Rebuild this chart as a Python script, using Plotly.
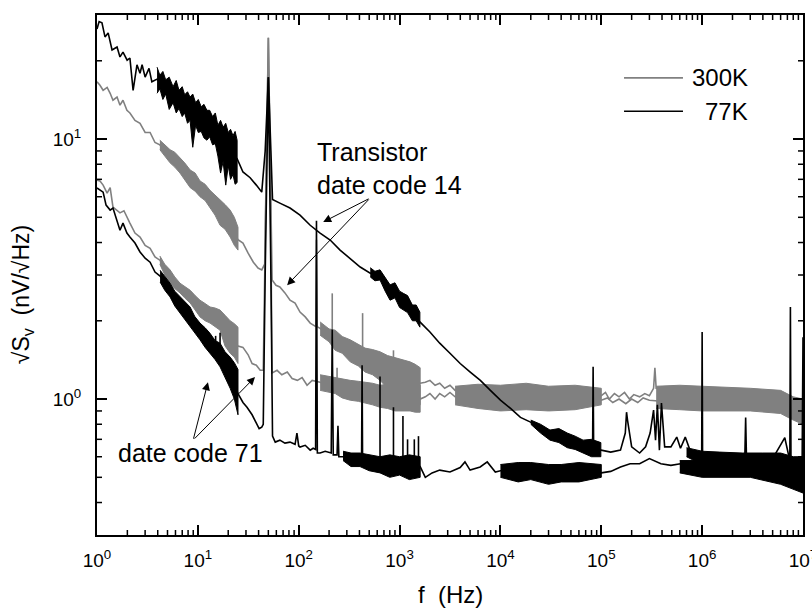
import math
import plotly.graph_objects as go

# ---------------- data ----------------
# Transistor date code 14, 77 K (upper black curve)
f_dc14_77 = [1.0, 1.05, 1.12, 1.2, 1.29, 1.41, 1.58, 1.69, 1.81, 1.99, 2.12, 2.28, 2.49, 2.67, 2.8,
             3.0, 3.28, 3.5, 3.94, 5.68, 8.37, 12.3, 17.8, 24.5, 28, 33, 38, 43, 46.5, 50, 53, 55,
             65, 82, 103, 130, 163, 205, 257, 324, 407, 512, 640, 805, 1090, 1340, 1590, 2000,
             2500, 3160, 3990, 5020, 6320, 7950, 10000, 12600, 15800, 19900, 25000, 31000, 46000,
             66000, 82000, 83000, 84000, 99600, 124000, 155000, 173000, 178000, 182000, 200000,
             240000, 275000, 305000, 330000, 345000, 360000, 377000, 395000, 425000, 490000,
             560000, 610000, 680000, 770000, 990000, 1000000, 1010000, 1500000, 2650000, 2700000,
             2750000, 5000000, 6600000, 7400000, 7500000, 7600000, 9000000, 9800000, 10000000]
v_dc14_77 = [26.5, 28.3, 28.0, 24.7, 25.6, 22.0, 22.6, 20.7, 21.6, 20.1, 20.5, 15.4, 19.3, 17.9, 19.3,
             17.3, 18.7, 16.6, 17.0, 14.8, 13.1, 11.3, 9.5, 8.4, 7.47, 7.1, 6.65, 6.25, 9.0, 17.3, 9.0, 5.85,
             5.67, 5.43, 5.1, 4.66, 4.35, 4.09, 3.74, 3.48, 3.22, 3.05, 3.0, 2.57, 2.37, 2.15, 1.98, 1.81,
             1.64, 1.50, 1.37, 1.27, 1.18, 1.08, 0.99, 0.92, 0.85, 0.815, 0.77, 0.73, 0.70,
             0.66, 0.64, 1.33, 0.64, 0.636, 0.625, 0.636, 0.74, 0.89, 0.83, 0.655,
             0.62, 0.655, 0.74, 0.907, 0.695, 0.95, 0.636, 0.965, 0.655, 0.655,
             0.714, 0.647, 0.714, 0.625, 0.6, 1.81, 0.6, 0.6, 0.6, 0.85,
             0.6, 0.59, 0.71, 0.58, 2.26, 0.58, 0.57, 0.56, 1.73]
band_dc14_77_lf_f = [3.94, 4.2, 4.5, 4.8, 5.2, 5.68, 6.1, 6.5, 7.0, 7.4, 7.9, 8.37, 8.9, 9.5, 10.1,
                     10.8, 11.5, 12.3, 13.1, 14, 14.9, 15.8, 16.8, 17.8, 18.9, 20, 21.1, 22.3, 23.4, 24.5]
band_dc14_77_lf_hi = [18.9, 17.6, 18.2, 16.9, 17.3, 15.9, 16.8, 15.4, 15.9, 14.8, 15.2, 14.5, 14.9, 13.8,
                      14.2, 13.3, 13.6, 12.9, 12.9, 12.2, 12.6, 11.3, 11.8, 11.1, 11.5, 10.6, 10.9, 10.3,
                      10.7, 9.9]
band_dc14_77_lf_lo = [15.0, 15.6, 14.2, 14.9, 13.0, 13.8, 12.6, 13.1, 12.2, 12.6, 11.5, 11.8, 9.3, 11.3,
                      10.6, 10.7, 10.1, 9.9, 10.2, 9.5, 9.6, 8.6, 7.4, 8.2, 6.65, 7.9, 7.0, 7.3, 6.7, 6.8]
band_dc14_77_mf_f = [512, 570, 640, 720, 805, 900, 1000, 1090, 1200, 1340, 1460, 1590]
band_dc14_77_mf_hi = [3.2, 3.1, 3.14, 2.95, 2.75, 2.8, 2.6, 2.55, 2.5, 2.3, 2.3, 2.16]
band_dc14_77_mf_lo = [2.95, 2.85, 2.87, 2.6, 2.4, 2.45, 2.25, 2.2, 2.15, 2.0, 2.0, 1.89]
band_dc14_77_hf_f = [20000, 25000, 31000, 38000, 46000, 55000, 66000, 80000, 99000]
band_dc14_77_hf_hi = [0.83, 0.8, 0.76, 0.77, 0.74, 0.72, 0.695, 0.7, 0.68]
band_dc14_77_hf_lo = [0.8, 0.74, 0.695, 0.68, 0.65, 0.64, 0.62, 0.6, 0.6]
band_dc14_77_vhf_f = [700000, 1000000, 1500000, 2500000, 4000000, 6000000, 8000000, 10000000]
band_dc14_77_vhf_hi = [0.65, 0.63, 0.625, 0.62, 0.62, 0.62, 0.6, 0.6]
band_dc14_77_vhf_lo = [0.6, 0.56, 0.55, 0.55, 0.54, 0.52, 0.5, 0.48]

# Transistor date code 71, 77 K (lower black curve)
f_dc71_77 = [1.0, 1.07, 1.15, 1.23, 1.35, 1.44, 1.58, 1.69, 1.81, 1.98, 2.12, 2.38, 2.67, 3.0, 3.36,
             3.76, 4.22, 5.3, 6.65, 8.37, 10.5, 13.2, 16.6, 20.9, 25, 28, 30.7, 34.5, 38, 40.5, 43,
             44.5, 46.5, 50, 53, 55, 58.5, 65, 73, 82, 92, 96, 100, 103, 116, 130, 139, 147, 150, 153,
             163, 183, 210, 215, 220, 240, 245, 250, 290, 340, 420, 425, 430, 1000, 1600, 1800, 2100,
             2500, 3160, 3990, 4450, 5000, 6300, 7400, 8900, 10000, 20000, 40000, 100000, 124000,
             155000, 193000, 240000, 300000, 390000, 490000, 610000, 1000000, 10000000]
v_dc71_77 = [6.48, 6.35, 6.25, 5.57, 5.33, 5.43, 4.88, 4.46, 4.75, 4.35, 4.2, 3.98, 3.68, 3.48, 3.36,
             3.08, 2.97, 2.63, 2.3, 2.06, 1.82, 1.64, 1.48, 1.25, 1.05, 0.97, 0.93, 0.87, 0.81, 0.77, 0.78,
             0.8, 3.0, 17.3, 3.0, 0.72, 0.683, 0.695, 0.677, 0.683, 0.67, 0.74, 0.66, 0.654, 0.664, 0.636,
             0.647, 0.64, 4.85, 0.62, 0.62, 0.63, 0.62, 1.85, 0.61, 0.61, 0.79, 0.6, 0.6, 0.59, 0.58, 1.35,
             0.57, 0.555, 0.55, 0.5, 0.52, 0.533, 0.524, 0.545, 0.573, 0.533, 0.548, 0.573, 0.524, 0.53,
             0.53, 0.52, 0.52, 0.527, 0.548, 0.564, 0.564, 0.59, 0.564, 0.556, 0.564, 0.54, 0.5]
band_dc71_77_lf_f = [4.22, 4.7, 5.3, 5.9, 6.65, 7.4, 8.37, 9.3, 10.5, 11.8, 13.2, 14.8, 16.6, 18.6,
                     20.9, 23, 25]
band_dc71_77_lf_hi = [3.13, 2.95, 2.79, 2.6, 2.47, 2.38, 2.26, 2.08, 1.96, 1.88, 1.79, 1.68, 1.64, 1.52,
                      1.45, 1.38, 1.3]
band_dc71_77_lf_lo = [2.82, 2.62, 2.47, 2.28, 2.14, 2.02, 1.89, 1.8, 1.69, 1.58, 1.5, 1.42, 1.33, 1.22,
                      1.1, 1.0, 0.87]
band_dc71_77_mf_f = [275, 330, 405, 500, 640, 800, 1000, 1250, 1600]
band_dc71_77_mf_hi = [0.63, 0.62, 0.62, 0.61, 0.6, 0.61, 0.6, 0.61, 0.6]
band_dc71_77_mf_lo = [0.58, 0.55, 0.55, 0.53, 0.52, 0.5, 0.51, 0.49, 0.5]
band_dc71_77_hf_f = [10000, 15000, 20000, 30000, 40000, 60000, 100000]
band_dc71_77_hf_hi = [0.56, 0.57, 0.57, 0.56, 0.56, 0.57, 0.56]
band_dc71_77_hf_lo = [0.5, 0.48, 0.49, 0.47, 0.48, 0.48, 0.5]
band_dc71_77_vhf_f = [600000, 1000000, 3000000, 6000000, 10000000]
band_dc71_77_vhf_hi = [0.58, 0.58, 0.58, 0.58, 0.56]
band_dc71_77_vhf_lo = [0.52, 0.5, 0.5, 0.47, 0.435]
spikes_77_f = [15, 16.6, 640, 870, 1080, 1200, 1400, 1540]
spikes_77_base = [1.55, 1.45, 0.55, 0.55, 0.55, 0.55, 0.55, 0.55]
spikes_77_top = [1.75, 1.8, 1.22, 0.93, 0.86, 0.7, 0.7, 0.72]

# Transistor date code 14, 300 K (upper grey curve)
f_dc14_300 = [1.0, 1.07, 1.15, 1.26, 1.35, 1.44, 1.58, 1.69, 1.81, 1.98, 2.12, 2.38, 2.67, 3.0, 3.36,
              3.76, 4.2, 5.3, 6.65, 8.4, 10.5, 13.2, 16.6, 20.9, 25, 28, 31.5, 35.5, 39.5, 43, 46,
              48, 50, 52, 54.5, 59.5, 65, 73, 82, 92, 103, 116, 130, 148, 150, 152, 163, 230, 324,
              455, 640, 905, 1270, 1600, 1800, 2000, 2250, 2500, 2800, 3160, 3550, 100000, 110000,
              120000, 135000, 150000, 170000, 190000, 210000, 240000, 270000, 300000, 330000, 340000,
              350000, 10000000]
v_dc14_300 = [16.6, 16.1, 15.4, 15.8, 15.0, 14.1, 14.5, 13.5, 14.1, 12.9, 12.6, 11.8, 11.5, 10.6, 10.6,
              9.7, 9.5, 8.6, 7.95, 7.05, 6.45, 5.9, 5.2, 4.75, 4.1, 3.98, 3.64, 3.36, 3.19, 3.14, 3.3,
              9.0, 24.5, 9.0, 2.87, 2.74, 2.7, 2.56, 2.4, 2.34, 2.16, 2.07, 1.96, 1.9, 4.1, 1.9, 1.87, 1.69, 1.54,
              1.42, 1.35, 1.24, 1.19, 1.15, 1.16, 1.18, 1.13, 1.15, 1.1, 1.13, 1.08, 1.03, 1.06,
              1.0, 1.05, 1.02, 1.06, 1.0, 1.04, 1.02, 1.05, 1.03, 1.1, 1.32,
              1.1, 0.9]
band_dc14_300_lf_f = [4.2, 4.7, 5.3, 5.9, 6.65, 7.4, 8.4, 9.4, 10.5, 11.8, 13.2, 14.8, 16.6, 18.6, 20.9,
                      23, 25]
band_dc14_300_lf_hi = [9.9, 9.5, 9.1, 8.9, 8.5, 8.1, 7.6, 7.4, 6.9, 6.7, 6.35, 6.1, 5.83, 5.6, 5.33,
                       5.0, 4.58]
band_dc14_300_lf_lo = [9.1, 8.6, 8.1, 7.8, 7.4, 7.0, 6.5, 6.3, 6.0, 5.8, 5.47, 5.1, 4.66, 4.5, 4.2,
                       3.9, 3.74]
band_dc14_300_mf_f = [163, 200, 230, 270, 324, 390, 455, 540, 640, 760, 905, 1080, 1270, 1430, 1600]
band_dc14_300_mf_hi = [1.98, 1.86, 1.84, 1.74, 1.69, 1.62, 1.57, 1.55, 1.52, 1.47, 1.44, 1.42, 1.39,
                       1.36, 1.32]
band_dc14_300_mf_lo = [1.76, 1.66, 1.54, 1.5, 1.39, 1.34, 1.27, 1.24, 1.18, 1.1, 1.05, 1.02, 0.99,
                       0.97, 0.95]
band_dc14_300_hf_f = [3550, 6000, 10000, 18000, 30000, 55000, 100000]
band_dc14_300_hf_hi = [1.12, 1.14, 1.13, 1.15, 1.12, 1.13, 1.1]
band_dc14_300_hf_lo = [0.95, 0.92, 0.9, 0.91, 0.9, 0.91, 0.95]
band_dc14_300_vhf_f = [350000, 600000, 1000000, 2000000, 3000000, 6000000, 8000000, 10000000]
band_dc14_300_vhf_hi = [1.12, 1.13, 1.12, 1.11, 1.1, 1.08, 1.02, 1.0]
band_dc14_300_vhf_lo = [0.92, 0.91, 0.9, 0.9, 0.9, 0.88, 0.83, 0.8]

# Transistor date code 71, 300 K (lower grey curve)
f_dc71_300 = [1.0, 1.07, 1.15, 1.26, 1.35, 1.44, 1.69, 1.85, 2.12, 2.38, 2.67, 3.0, 3.36, 3.76, 4.2,
              5.3, 6.65, 8.4, 10.5, 13.2, 16.6, 20.9, 25, 28, 31.5, 34.5, 38, 41.5, 44.5, 48, 50, 52,
              54.5, 61, 68, 77, 86, 97, 108, 121, 136, 163, 230, 324, 455, 640, 905, 1270, 1600, 1800,
              2000, 2250, 2500, 2800, 3160, 3550, 100000, 115000, 130000, 150000, 175000, 200000,
              230000, 260000, 300000, 10000000]
v_dc71_300 = [6.95, 6.9, 6.65, 6.2, 6.5, 5.47, 5.2, 5.3, 4.75, 4.35, 4.2, 3.9, 3.8, 3.52, 3.42,
              2.96, 2.67, 2.48, 2.23, 2.1, 2.0, 1.75, 1.6, 1.58, 1.48, 1.37, 1.35, 1.29, 1.29, 9.0, 24.5, 9.0,
              1.26, 1.29, 1.24, 1.27, 1.2, 1.18, 1.21, 1.13, 1.18, 1.16, 1.13, 1.09, 1.06, 1.03, 1.02, 1.02, 1.0, 1.02,
              1.05, 1.0, 1.05, 1.02, 1.06, 1.02, 0.99, 1.01, 0.97, 1.0, 0.96, 1.0,
              0.97, 1.01, 0.99, 0.88]
band_dc71_300_lf_f = [4.2, 4.7, 5.3, 5.9, 6.65, 7.4, 8.4, 9.4, 10.5, 11.8, 13.2, 14.8, 16.6, 18.6, 20.9,
                      23, 25]
band_dc71_300_lf_hi = [3.55, 3.3, 3.14, 2.95, 2.79, 2.72, 2.62, 2.5, 2.4, 2.33, 2.26, 2.24, 2.2, 2.1,
                       2.0, 1.95, 1.89]
band_dc71_300_lf_lo = [3.3, 3.0, 2.79, 2.66, 2.56, 2.45, 2.34, 2.2, 2.07, 2.0, 1.96, 1.9, 1.84, 1.6,
                       1.5, 1.45, 1.37]
band_dc71_300_mf_f = [163, 200, 230, 270, 324, 390, 455, 540, 640, 760, 905, 1080, 1270, 1430, 1600]
band_dc71_300_mf_hi = [1.24, 1.22, 1.21, 1.19, 1.18, 1.17, 1.16, 1.15, 1.13, 1.14, 1.13, 1.14, 1.15,
                       1.14, 1.13]
band_dc71_300_mf_lo = [1.08, 1.06, 1.05, 1.01, 0.99, 0.98, 0.965, 0.95, 0.93, 0.92, 0.9, 0.9, 0.9,
                       0.89, 0.89]
spikes_300_f = [215, 240, 430, 870]
spikes_300_base = [1.7, 1.1, 1.4, 1.2]
spikes_300_top = [2.55, 1.32, 2.14, 1.54]

# axis ticks
x_tick_vals = [1, 10, 100, 1000, 10000, 100000, 1000000, 10000000]
x_tick_text = ["10<sup>0</sup>", "10<sup>1</sup>", "10<sup>2</sup>", "10<sup>3</sup>",
               "10<sup>4</sup>", "10<sup>5</sup>", "10<sup>6</sup>", "10<sup>7</sup>"]
x_minor_vals = [m * 10 ** k for k in range(7) for m in range(2, 10)]
y_tick_vals = [1, 10]
y_tick_text = ["10<sup>0</sup>", "10<sup>1</sup>"]
y_minor_vals = [0.4, 0.5, 0.6, 0.7, 0.8, 0.9, 2, 3, 4, 5, 6, 7, 8, 9, 20]

GREY = "#808080"
BLACK = "#000000"
FONT = "Liberation Sans, Arial, Helvetica, sans-serif"

W, H = 812, 609
M_L, M_R, M_T, M_B = 97, 9, 15, 74
PW, PH = W - M_L - M_R, H - M_T - M_B


def line_trace(f, v, color, width=1.6):
    return go.Scatter(x=f, y=v, mode="lines", line=dict(color=color, width=width),
                      showlegend=False, hoverinfo="skip")


def band_trace(f, hi, lo, color):
    return go.Scatter(x=list(f) + list(f)[::-1], y=list(hi) + list(lo)[::-1], mode="lines",
                      fill="toself", fillcolor=color, line=dict(color=color, width=1),
                      showlegend=False, hoverinfo="skip")


def spike_trace(f, base, top, color):
    xs, ys = [], []
    for fi, b, t in zip(f, base, top):
        xs += [fi, fi, None]
        ys += [b, t, None]
    return go.Scatter(x=xs, y=ys, mode="lines", line=dict(color=color, width=1.6),
                      showlegend=False, hoverinfo="skip")


fig = go.Figure()

# grey (300 K)
fig.add_trace(band_trace(band_dc14_300_lf_f, band_dc14_300_lf_hi, band_dc14_300_lf_lo, GREY))
fig.add_trace(band_trace(band_dc14_300_mf_f, band_dc14_300_mf_hi, band_dc14_300_mf_lo, GREY))
fig.add_trace(band_trace(band_dc14_300_hf_f, band_dc14_300_hf_hi, band_dc14_300_hf_lo, GREY))
fig.add_trace(band_trace(band_dc14_300_vhf_f, band_dc14_300_vhf_hi, band_dc14_300_vhf_lo, GREY))
fig.add_trace(band_trace(band_dc71_300_lf_f, band_dc71_300_lf_hi, band_dc71_300_lf_lo, GREY))
fig.add_trace(band_trace(band_dc71_300_mf_f, band_dc71_300_mf_hi, band_dc71_300_mf_lo, GREY))
fig.add_trace(line_trace(f_dc14_300, v_dc14_300, GREY))
fig.add_trace(line_trace(f_dc71_300, v_dc71_300, GREY))
fig.add_trace(spike_trace(spikes_300_f, spikes_300_base, spikes_300_top, GREY))

# black (77 K)
fig.add_trace(band_trace(band_dc14_77_lf_f, band_dc14_77_lf_hi, band_dc14_77_lf_lo, BLACK))
fig.add_trace(band_trace(band_dc14_77_mf_f, band_dc14_77_mf_hi, band_dc14_77_mf_lo, BLACK))
fig.add_trace(band_trace(band_dc14_77_hf_f, band_dc14_77_hf_hi, band_dc14_77_hf_lo, BLACK))
fig.add_trace(band_trace(band_dc14_77_vhf_f, band_dc14_77_vhf_hi, band_dc14_77_vhf_lo, BLACK))
fig.add_trace(band_trace(band_dc71_77_lf_f, band_dc71_77_lf_hi, band_dc71_77_lf_lo, BLACK))
fig.add_trace(band_trace(band_dc71_77_mf_f, band_dc71_77_mf_hi, band_dc71_77_mf_lo, BLACK))
fig.add_trace(band_trace(band_dc71_77_hf_f, band_dc71_77_hf_hi, band_dc71_77_hf_lo, BLACK))
fig.add_trace(band_trace(band_dc71_77_vhf_f, band_dc71_77_vhf_hi, band_dc71_77_vhf_lo, BLACK))
fig.add_trace(line_trace(f_dc14_77, v_dc14_77, BLACK))
fig.add_trace(line_trace(f_dc71_77, v_dc71_77, BLACK))
fig.add_trace(spike_trace(spikes_77_f, spikes_77_base, spikes_77_top, BLACK))

axis_common = dict(type="log", showgrid=False, zeroline=False, showline=True, linecolor="black",
                   linewidth=2, mirror="ticks", ticks="inside", ticklen=10, tickwidth=2,
                   tickcolor="black", automargin=False, ticklabeloverflow="allow",
                   tickfont=dict(family=FONT, size=19, color="black"))

fig.update_layout(
    template="none",
    width=W, height=H,
    margin=dict(l=M_L, r=M_R, t=M_T, b=M_B),
    paper_bgcolor="white", plot_bgcolor="white",
    showlegend=False,
    font=dict(family=FONT, color="black"),
    xaxis=dict(axis_common, range=[0, 7], tickmode="array", tickvals=x_tick_vals,
               ticktext=x_tick_text, ticklabelstandoff=7),
    yaxis=dict(axis_common, range=[math.log10(0.3), math.log10(30)], tickmode="array",
               tickvals=y_tick_vals, ticktext=y_tick_text, ticklabelstandoff=10),
)


# minor inside ticks on all four sides, positioned through the axis scales
def add_x_minor(vals, length, width):
    lp = length / PH
    for v in vals:
        for y0, y1 in ((0, lp), (1, 1 - lp)):
            fig.add_shape(type="line", xref="x", yref="paper", x0=v, x1=v, y0=y0, y1=y1,
                          line=dict(color="black", width=width), layer="above")


def add_y_minor(vals, length, width):
    lp = length / PW
    for v in vals:
        for x0, x1 in ((0, lp), (1, 1 - lp)):
            fig.add_shape(type="line", xref="paper", yref="y", x0=x0, x1=x1, y0=v, y1=v,
                          line=dict(color="black", width=width), layer="above")


add_x_minor(x_minor_vals, 5, 1.5)
add_y_minor(y_minor_vals, 5, 1.5)

# axis titles
fig.add_annotation(text="f  (Hz)", xref="paper", yref="paper", x=0.5, y=-0.1135,
                   xanchor="center", yanchor="middle", showarrow=False,
                   font=dict(family=FONT, size=24, color="black"))
fig.add_annotation(text="√S<sub>v</sub>  (nV/√Hz)", xref="paper", yref="paper", x=-0.106, y=0.4615,
                   xanchor="center", yanchor="middle", textangle=-90, showarrow=False,
                   font=dict(family=FONT, size=23, color="black"))

# legend drawn as layout items
legend_items = [("300K", GREY, 0.879), ("77K", BLACK, 0.815)]
for name, col, yp in legend_items:
    fig.add_shape(type="line", xref="paper", yref="paper", x0=0.7465, x1=0.830, y0=yp, y1=yp,
                  line=dict(color=col, width=1.6))
    fig.add_annotation(text=name, xref="paper", yref="paper", x=0.925, y=yp, xanchor="right",
                       yanchor="middle", showarrow=False, font=dict(family=FONT, size=24, color="black"))

# text labels
fig.add_annotation(text="Transistor<br>date code 14", x=2.163, y=0.888, xref="x", yref="y",
                   xanchor="left", yanchor="middle", align="left", showarrow=False,
                   font=dict(family=FONT, size=25, color="black"))
fig.add_annotation(text="date code 71", x=0.188, y=-0.208, xref="x", yref="y",
                   xanchor="left", yanchor="middle", align="left", showarrow=False,
                   font=dict(family=FONT, size=25, color="black"))

# arrows (head -> x,y ; tail -> ax,ay), log10 coordinates
arrows = [
    (1.100, 0.0645, 0.953, -0.158),
    (1.567, 0.0846, 0.953, -0.158),
    (2.243, 0.681, 2.708, 0.773),
    (1.885, 0.438, 2.708, 0.773),
]
for hx, hy, tx, ty in arrows:
    fig.add_annotation(text="", x=hx, y=hy, ax=tx, ay=ty, xref="x", yref="y", axref="x", ayref="y",
                       showarrow=True, arrowhead=2, arrowsize=1.6, arrowwidth=1, arrowcolor="black",
                       standoff=0, startstandoff=0)

fig.write_html("out.html", config={"displayModeBar": False},
               post_script="document.body.style.margin='0px';")
